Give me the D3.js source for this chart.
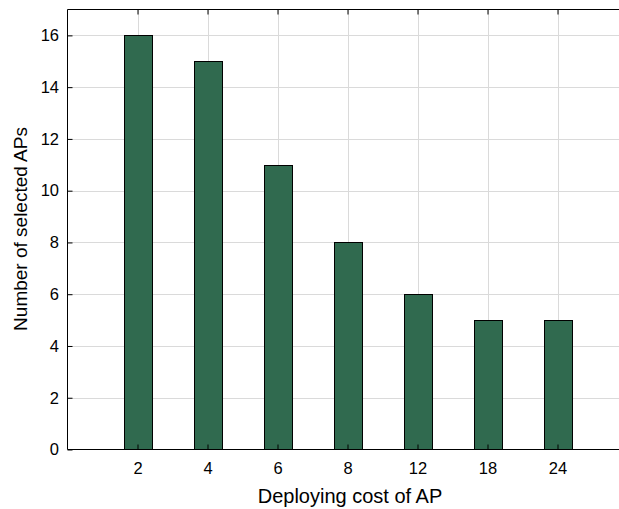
<!DOCTYPE html>
<html><head><meta charset="utf-8">
<script src="https://cdn.jsdelivr.net/npm/d3@7"></script>
<style>body{margin:0;background:#fff}svg{display:block}text{font-family:"Liberation Sans",Arial,sans-serif;fill:#000}</style>
</head><body>
<svg id="c" width="619" height="509"></svg>
<script>
const categories = ["2","4","6","8","12","18","24"];
const values = [16,15,11,8,6,5,5];
const yTicks = [0,2,4,6,8,10,12,14,16];
const xLabel = "Deploying cost of AP";
const yLabel = "Number of selected APs";

const svg = d3.select("#c");
const L = 67.5, T = 9.5, B = 449.5, R = 627.5;
const x = d3.scaleLinear().domain([0, 8]).range([L, R]);
const y = d3.scaleLinear().domain([0, 17]).range([B, T]);
const xi = categories.map((c,i)=>i+1);

// grid
svg.append("g").selectAll("line").data(yTicks.filter(d=>d>0)).join("line")
  .attr("x1",L).attr("x2",R).attr("y1",d=>Math.round(y(d))+0.5).attr("y2",d=>Math.round(y(d))+0.5)
  .attr("stroke","#dadada").attr("stroke-width",1);
svg.append("g").selectAll("line").data(xi).join("line")
  .attr("y1",T).attr("y2",B).attr("x1",d=>Math.round(x(d))+0.5).attr("x2",d=>Math.round(x(d))+0.5)
  .attr("stroke","#dadada").attr("stroke-width",1);

// bars
const bw = 28;
svg.append("g").selectAll("rect").data(values).join("rect")
  .attr("x",(d,i)=>Math.round(x(xi[i])-bw/2)+0.5)
  .attr("y",d=>Math.round(y(d))+0.5)
  .attr("width",bw)
  .attr("height",d=>B-Math.round(y(d))-0.5)
  .attr("fill","#306a4f").attr("stroke","#000").attr("stroke-width",1);

// frame
svg.append("line").attr("x1",L).attr("x2",R).attr("y1",T).attr("y2",T).attr("stroke","#000");
svg.append("line").attr("x1",L).attr("x2",R).attr("y1",B).attr("y2",B).attr("stroke","#000");
svg.append("line").attr("x1",L).attr("x2",L).attr("y1",T).attr("y2",B).attr("stroke","#000");

// y axis
const ya = d3.axisLeft(y).tickValues(yTicks).tickSizeInner(-5).tickSizeOuter(0).tickPadding(8.5);
const gy = svg.append("g").attr("transform",`translate(${L},0)`).call(ya);
gy.select(".domain").remove();
gy.selectAll(".tick line").attr("stroke","#000");
gy.selectAll(".tick text").style("font-size","16.5px").attr("font-family","Liberation Sans, Arial, sans-serif");

// x axis (bottom labels)
const xa = d3.axisBottom(x).tickValues(xi).tickFormat((d)=>categories[d-1]).tickSizeInner(-5).tickSizeOuter(0).tickPadding(13);
const gx = svg.append("g").attr("transform",`translate(0,${B})`).call(xa);
gx.select(".domain").remove();
gx.selectAll(".tick line").attr("stroke","#000");
gx.selectAll(".tick text").style("font-size","16.5px").attr("font-family","Liberation Sans, Arial, sans-serif");

// top ticks
const xt = d3.axisTop(x).tickValues(xi).tickFormat("").tickSizeInner(-5).tickSizeOuter(0);
const gt = svg.append("g").attr("transform",`translate(0,${T})`).call(xt);
gt.select(".domain").remove();
gt.selectAll(".tick line").attr("stroke","#000");

// titles
svg.append("text").attr("x",350).attr("y",503).attr("text-anchor","middle")
  .style("font-size","20px").text(xLabel);
svg.append("text").attr("transform",`translate(27,229) rotate(-90)`).attr("text-anchor","middle")
  .style("font-size","19px").text(yLabel);
</script>
</body></html>
